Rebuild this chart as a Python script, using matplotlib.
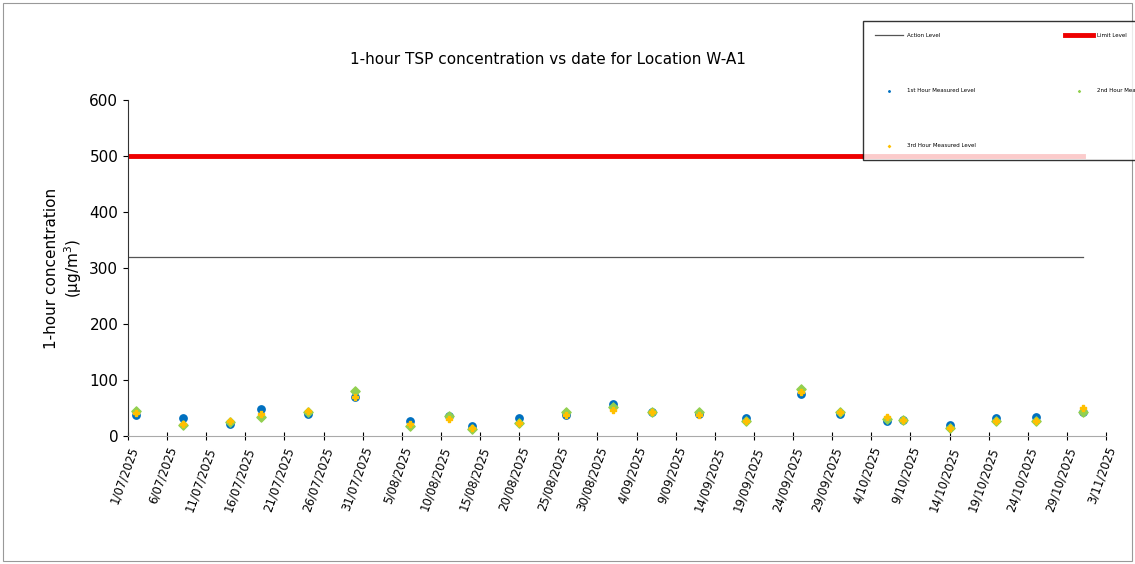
import matplotlib
matplotlib.use("Agg")
import matplotlib.pyplot as plt
import numpy as np
from datetime import datetime, timedelta

dates = ["2025-07-02","2025-07-08","2025-07-14","2025-07-18","2025-07-24","2025-07-30",
         "2025-08-06","2025-08-11","2025-08-14","2025-08-20","2025-08-26","2025-09-01",
         "2025-09-06","2025-09-12","2025-09-18","2025-09-25","2025-09-30","2025-10-06",
         "2025-10-08","2025-10-14","2025-10-20","2025-10-25","2025-10-31"]
hour1 = [38,32,21,48,40,70,26,36,18,32,38,57,43,40,32,75,40,26,29,20,32,34,42]
hour2 = [44,20,25,34,42,80,18,36,12,23,43,52,43,43,26,84,42,30,29,14,26,26,42]
hour3 = [41,21,27,39,44,70,21,30,15,23,38,46,43,38,26,78,43,34,29,14,26,26,50]
action_level = 320
limit_level = 500

d = [datetime.strptime(s, "%Y-%m-%d") for s in dates]
start = datetime(2025,7,1); end = datetime(2025,11,3)
line_x = [start, datetime(2025,10,31)]

fig = plt.figure(figsize=(11.35,5.64), dpi=100)
fig.patches.append(plt.Rectangle((0.003,0.005),0.994,0.99, transform=fig.transFigure,
                                 fill=False, ec="#999999", lw=0.8))
ax = fig.add_axes([128/1135, 1-436/564, 978/1135, 336/564])
l1, = ax.plot(line_x, [action_level]*2, color="#555555", lw=0.9, label="Action Level")
l2, = ax.plot(line_x, [limit_level]*2, color="#ee0000", lw=3.5, label="Limit Level")
s1 = ax.scatter(d, hour1, color="#0070c0", s=28, zorder=3, label="1st Hour Measured Level")
s2 = ax.scatter(d, hour2, color="#92d050", marker="D", s=22, zorder=4, label="2nd Hour Measured Level")
s3 = ax.scatter(d, hour3, color="#ffc000", marker="P", s=22, zorder=5, label="3rd Hour Measured Level")
ax.set_xlim(start, end)
ax.set_ylim(0, 600)
ax.set_yticks(range(0, 601, 100))
ticks = [start + timedelta(days=5*i) for i in range(25)] + [end]
ax.set_xticks(ticks)
ax.set_xticklabels([f"{t.day}/{t.month:02d}/{t.year}" for t in ticks], rotation=70, ha="right",
                   rotation_mode="anchor", fontsize=8.5)
ax.tick_params(axis="y", labelsize=11)
ax.tick_params(axis="x", direction="inout", length=6)
for s in ["top","right"]:
    ax.spines[s].set_visible(False)
ax.spines["left"].set_color("#333333"); ax.spines["bottom"].set_color("#aaaaaa")
ax.set_ylabel("1-hour concentration\n(µg/m$^3$)", fontsize=11)
fig.text(0.483, 1-60/564, "1-hour TSP concentration vs date for Location W-A1", ha="center",
         va="center", fontsize=11)
leg = fig.legend(handles=[l1,s1,s3,l2,s2], loc="upper left", bbox_to_anchor=(860/1135, 1-18/564),
                 ncol=2, fontsize=4, frameon=True, fancybox=False, edgecolor="black",
                 markerscale=0.2, labelspacing=9, columnspacing=16, borderpad=2.2,
                 handlelength=5)
leg.get_frame().set_linewidth(1)
fig.savefig("out.png", dpi=100)
